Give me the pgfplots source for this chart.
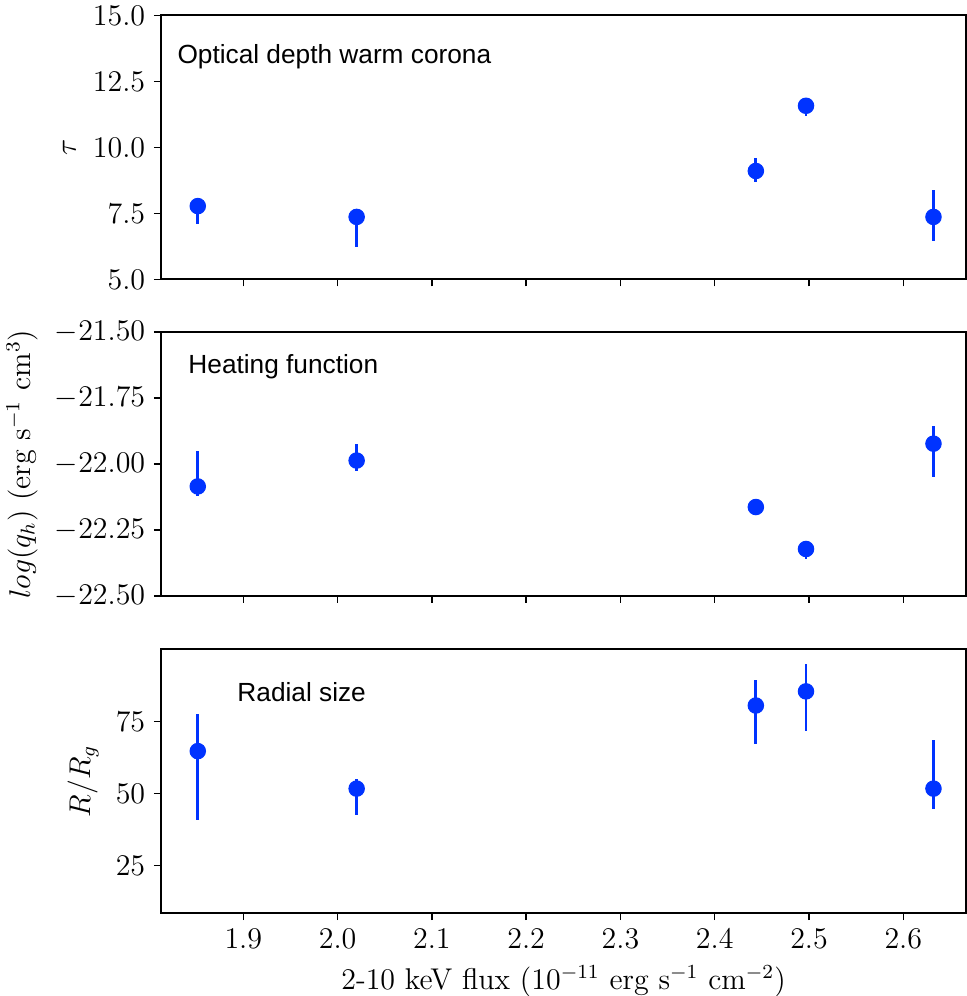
\documentclass[border=0pt]{standalone}
\usepackage{pgfplots}
\pgfplotsset{compat=1.18}
\usepackage{pgfplotstable}
\usepackage{fontspec}
\newfontfamily\annotfont{Liberation Sans}
\definecolor{ptblue}{RGB}{0,51,255}

% x: 2-10 keV flux, y: value, ep/em: upper/lower error
\pgfplotstableread{
x       y       ep     em
1.8517  7.78    0.17   0.68
2.0202  7.37    0.10   1.15
2.4436  9.11    0.48   0.40
2.4968  11.58   0.10   0.38
2.6320  7.37    1.02   0.91
}\tautab
\pgfplotstableread{
x       y        ep     em
1.8517  -22.085  0.133  0.038
2.0202  -21.987  0.063  0.038
2.4436  -22.163  0.010  0.010
2.4968  -22.322  0.010  0.037
2.6320  -21.923  0.066  0.126
}\qhtab
\pgfplotstableread{
x       y      ep     em
1.8517  64.7   12.8   23.9
2.0202  51.7   3.5    9.2
2.4436  80.5   8.7    13.3
2.4968  85.4   9.4    13.8
2.6320  51.7   16.7   7.0
}\radtab

\pgfplotsset{
  panel/.style={
    width=322pt, height=105.6pt, scale only axis,
    xmin=1.8127, xmax=2.6665,
    xtick={1.9,2.0,2.1,2.2,2.3,2.4,2.5,2.6},
    xticklabel style={/pgf/number format/.cd, fixed, fixed zerofill, precision=1},
    xtick pos=bottom, ytick pos=left,
    tick align=outside, major tick length=2.8pt,
    tick style={line width=0.6pt, black},
    axis line style={line width=0.8pt},
    ticklabel style={font=\fontsize{12}{14}\selectfont},
    label style={font=\fontsize{12}{14}\selectfont},
  },
  pts/.style={only marks, mark=*, mark size=3.1pt, color=ptblue,
    mark options={draw=ptblue, fill=ptblue},
    error bars/.cd, y dir=both, y explicit, error mark=none,
    error bar style={line width=1.1pt, ptblue}},
}
\tikzset{
  tag/.style={anchor=base west, inner sep=0pt,
    font=\annotfont\fontsize{10.5}{12}\selectfont},
}

\begin{document}
\begin{tikzpicture}
\path[use as bounding box] (-64.4pt,-33.1pt) rectangle (322.4pt,365.3pt);

% optical depth of the warm corona
\begin{axis}[panel, at={(0pt,253.5pt)}, anchor=south west,
  ymin=5, ymax=15, ytick={5,7.5,10,12.5,15},
  yticklabel style={/pgf/number format/.cd, fixed, fixed zerofill, precision=1},
  xticklabels={},
  ylabel={$\tau$}]
  \addplot[pts] table[x=x, y=y, y error plus=ep, y error minus=em] {\tautab};
  \node[tag] at (rel axis cs:0.0199,0.8196) {Optical depth warm corona};
\end{axis}

% heating function
\begin{axis}[panel, at={(0pt,126.9pt)}, anchor=south west,
  ymin=-22.5, ymax=-21.5, ytick={-22.5,-22.25,-22,-21.75,-21.5},
  yticklabel style={/pgf/number format/.cd, fixed, fixed zerofill, precision=2},
  xticklabels={},
  ylabel={$log(q_h)$ (erg s$^{-1}$ cm$^{3}$)}]
  \addplot[pts] table[x=x, y=y, y error plus=ep, y error minus=em] {\qhtab};
  \node[tag] at (rel axis cs:0.0335,0.843) {Heating function};
\end{axis}

% radial size
\begin{axis}[panel, at={(0pt,0pt)}, anchor=south west,
  ymin=8.5, ymax=100, ytick={25,50,75},
  ylabel={$R/R_g$},
  xlabel={2-10 keV flux ($10^{-11}$ erg s$^{-1}$ cm$^{-2}$)}]
  \addplot[pts] table[x=x, y=y, y error plus=ep, y error minus=em] {\radtab};
  \node[tag] at (rel axis cs:0.0944,0.8015) {Radial size};
\end{axis}
\end{tikzpicture}
\end{document}
